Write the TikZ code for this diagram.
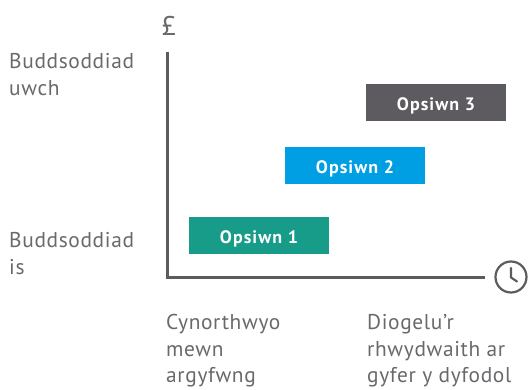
\documentclass[tikz,border=0pt]{standalone}
\usepackage{fontspec}
\setmainfont{PT Sans}[LetterSpace=3]
\newfontfamily\boldf{PT Sans Bold}[LetterSpace=6]
\definecolor{axisgrey}{HTML}{5D5B60}
\definecolor{textgrey}{HTML}{6A686C}
\definecolor{tealc}{HTML}{189C8A}
\definecolor{bluec}{HTML}{009EE2}
\tikzset{
  x=1pt,y=-1pt,
  optbox/.style={minimum width=140pt,minimum height=37pt,inner sep=0pt,text=white,text height=16pt,text depth=0pt,font=\boldf\fontsize{18}{20}\selectfont},
  lab/.style={anchor=north west,inner sep=0pt,align=left,text=textgrey,font=\fontsize{21.4}{26.7}\selectfont},
  axisline/.style={draw=axisgrey,line width=3pt},
}
\begin{document}
\begin{tikzpicture}
\useasboundingbox (0,0) rectangle (528,390);
\coordinate (top) at (167,52);
\coordinate (corner) at (167,278);
\coordinate (right) at (485,278);
\draw[axisline,line cap=butt,line join=miter] (top) -- (corner) -- (right);
\node[optbox,fill=tealc] (o1) at (259,235.5) {Opsiwn 1};
\node[optbox,fill=bluec] (o2) at (355,165.5) {Opsiwn 2};
\node[optbox,fill=axisgrey] (o3) at (436,102.5) {Opsiwn 3};
\node[lab,font=\fontsize{27}{27}\selectfont] (pound) at (161.5,16) {£};
\node[lab] (hi) at (9,53.5) {Buddsoddiad\\uwch};
\node[lab] (lo) at (9,232) {Buddsoddiad\\is};
\node[lab] (l1) at (166,314) {Cynorthwyo\\mewn\\argyfwng};
\node[lab] (l2) at (367,314) {Diogelu’r\\rhwydwaith ar\\gyfer y dyfodol};
\node[circle,draw=axisgrey,line width=2.2pt,minimum size=31pt,inner sep=0pt] (clock) at (511,277) {};
\draw[draw=axisgrey,line width=2.2pt,line cap=round,line join=round] (511,268) -- (511,277.5) -- (517,281.5);
\end{tikzpicture}
\end{document}
